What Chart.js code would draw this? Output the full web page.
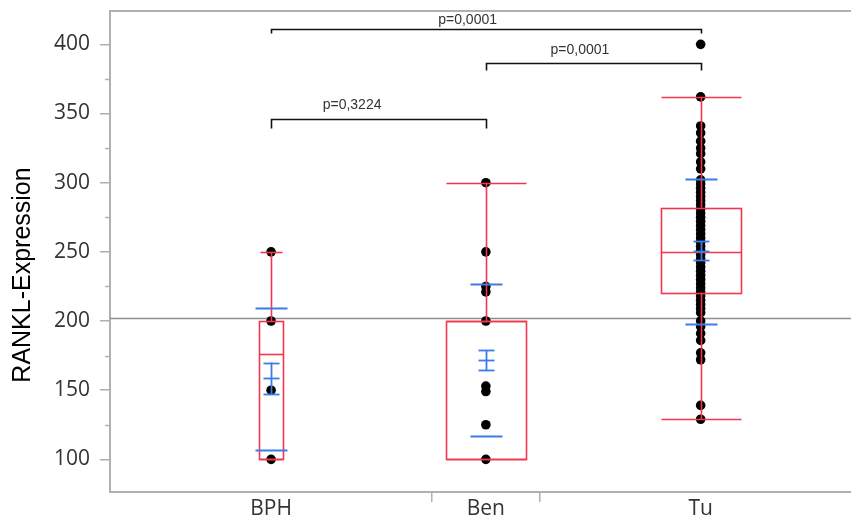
<!DOCTYPE html>
<html><head><meta charset="utf-8">
<script src="https://cdn.jsdelivr.net/npm/chart.js@4.4.1/dist/chart.umd.min.js"></script>
<style>html,body{margin:0;padding:0;background:#fff;}canvas{display:block;}</style>
</head><body>
<canvas id="c" width="851" height="522"></canvas>
<script>
// ---- data ----
const categories = ['BPH', 'Ben', 'Tu'];
const whiskerLow  = [100, 100, 129];
const quartile1   = [100, 100, 220];
const medians     = [176, 200, 250];
const quartile3   = [200, 200, 282];
const whiskerHigh = [250, 300, 362];
const means       = [159, 171.5, 250.7];
const seLow       = [147.3, 164.5, 244];
const seHigh      = [170, 178.7, 257.5];
const sdLow       = [106.5, 116.7, 197.8];
const sdHigh      = [209.6, 227, 302.7];
const pointsBPH = [250, 200, 150, 100];
const pointsBen = [300, 250, 225, 221, 200, 153, 149, 125, 100];
const pointsTu  = [400, 362, 341, 336, 330, 325, 321, 315, 310, 302, 299, 296, 293, 290, 287, 284, 281, 278, 275, 272, 269, 266, 263, 260, 257, 254, 251, 248, 245, 242, 239, 236, 233, 230, 227, 224, 221, 218, 215, 212, 209, 206, 200, 196, 191, 186, 177, 172, 139, 129];
const yTicks = [100, 150, 200, 250, 300, 350, 400];
const yMinorTicks = [125, 175, 225, 275, 325, 375];
const xDividers = [0.75, 1.25];
const referenceValue = 202;
const compFrom  = [0, 1, 0];
const compTo    = [2, 2, 1];
const compLevel = [411, 386.3, 345.8];
const compLabel = ['p=0,0001', 'p=0,0001', 'p=0,3224'];

// ---- style ----
const style = {
  red: '#f0384c', blue: '#3b7de6', boxWidth: [24, 80, 80], capWidth: [22, 80, 80],
  sdWidth: 32, seWidth: 16, compTick: [4, 7, 9], compTextX: [0.915, 1.438, 0.377], compTextGap: [6, 10, 11]
};

const groups = [pointsBPH, pointsBen, pointsTu];
const scatterData = [];
groups.forEach((arr, gi) => arr.forEach(v => scatterData.push({x: gi, y: v})));

const decor = {
  id: 'decor',
  beforeDatasetsDraw(chart) {
    const {ctx, chartArea: a, scales: {x, y}} = chart;
    ctx.save();
    ctx.strokeStyle = '#b0b0b0'; ctx.lineWidth = 2;
    ctx.beginPath(); ctx.moveTo(a.left, a.top); ctx.lineTo(a.right, a.top); ctx.stroke();
    const ry = Math.round(y.getPixelForValue(referenceValue)) + 0.5;
    ctx.strokeStyle = '#8e8e8e'; ctx.lineWidth = 1.6;
    ctx.beginPath(); ctx.moveTo(a.left, ry); ctx.lineTo(a.right, ry); ctx.stroke();
    ctx.strokeStyle = '#b0b0b0'; ctx.lineWidth = 1.5;
    yMinorTicks.forEach(v => {
      const py = Math.round(y.getPixelForValue(v)) + 0.5;
      ctx.beginPath(); ctx.moveTo(a.left - 5, py); ctx.lineTo(a.left, py); ctx.stroke();
    });
    ctx.restore();
  },
  afterDatasetsDraw(chart) {
    const {ctx, scales: {x, y}} = chart;
    ctx.save();
    const hl = (cx, v, w) => { const py = Math.round(y.getPixelForValue(v)) + 0.5; ctx.beginPath(); ctx.moveTo(cx - w / 2, py); ctx.lineTo(cx + w / 2, py); ctx.stroke(); };
    const vl = (cx, v1, v2) => { ctx.beginPath(); ctx.moveTo(cx, y.getPixelForValue(v1)); ctx.lineTo(cx, y.getPixelForValue(v2)); ctx.stroke(); };
    categories.forEach((c, i) => {
      const cx = Math.round(x.getPixelForValue(i)) + 0.5;
      ctx.strokeStyle = style.red; ctx.lineWidth = 1.6;
      vl(cx, whiskerLow[i], quartile1[i]);
      vl(cx, quartile3[i], whiskerHigh[i]);
      hl(cx, whiskerLow[i], style.capWidth[i]);
      hl(cx, whiskerHigh[i], style.capWidth[i]);
      const t = Math.round(y.getPixelForValue(quartile3[i])) + 0.5;
      const b = Math.round(y.getPixelForValue(quartile1[i])) + 0.5;
      ctx.strokeRect(cx - style.boxWidth[i] / 2, t, style.boxWidth[i], b - t);
      hl(cx, medians[i], style.boxWidth[i]);
      ctx.strokeStyle = style.blue; ctx.lineWidth = 1.8;
      hl(cx, sdLow[i], style.sdWidth);
      hl(cx, sdHigh[i], style.sdWidth);
      vl(cx, seLow[i], seHigh[i]);
      hl(cx, seLow[i], style.seWidth);
      hl(cx, seHigh[i], style.seWidth);
      hl(cx, means[i], style.seWidth);
    });
    ctx.strokeStyle = '#111'; ctx.lineWidth = 1.6; ctx.fillStyle = '#333';
    ctx.font = '14px "Liberation Sans", Arial, sans-serif';
    ctx.textAlign = 'center'; ctx.textBaseline = 'alphabetic';
    compLabel.forEach((lab, k) => {
      const x1 = Math.round(x.getPixelForValue(compFrom[k])) + 0.5;
      const x2 = Math.round(x.getPixelForValue(compTo[k])) + 0.5;
      const py = Math.round(y.getPixelForValue(compLevel[k])) + 0.5;
      ctx.beginPath();
      ctx.moveTo(x1, py + style.compTick[k]); ctx.lineTo(x1, py); ctx.lineTo(x2, py); ctx.lineTo(x2, py + style.compTick[k]);
      ctx.stroke();
      ctx.fillText(lab, x.getPixelForValue(style.compTextX[k]), py - style.compTextGap[k]);
    });
    ctx.restore();
  },
  afterDraw(chart) {
    const {ctx} = chart;
    ctx.save();
    ctx.translate(23, 275);
    ctx.rotate(-Math.PI / 2);
    ctx.font = '25px "Liberation Sans", Arial, sans-serif';
    ctx.fillStyle = '#000'; ctx.textAlign = 'center'; ctx.textBaseline = 'middle';
    ctx.fillText('RANKL-Expression', 0, 0);
    ctx.restore();
  }
};

new Chart(document.getElementById('c'), {
  type: 'scatter',
  data: { datasets: [{ data: scatterData, pointRadius: 4.8, pointHoverRadius: 4.8, pointBackgroundColor: '#000', pointBorderWidth: 0, borderColor: '#000' }] },
  options: {
    responsive: false, animation: false, devicePixelRatio: 1,
    layout: { autoPadding: false, padding: { top: 11, right: 0, left: 0, bottom: 0 } },
    plugins: { legend: { display: false }, tooltip: { enabled: false } },
    scales: {
      x: {
        type: 'linear', min: -0.75, max: 2.7,
        afterBuildTicks: s => { s.ticks = [0, ...xDividers, 1, 2].sort((a, b) => a - b).map(v => ({value: v})); },
        afterFit: s => { s.height = 30; s.paddingLeft = 0; s.paddingRight = 0; },
        border: { color: '#b0b0b0', width: 2 },
        grid: { drawOnChartArea: false, drawTicks: true, tickLength: 10, lineWidth: 1.5,
          tickColor: c => (c.tick && Number.isInteger(c.tick.value)) ? 'rgba(0,0,0,0)' : '#b0b0b0' },
        ticks: { autoSkip: false, maxRotation: 0, padding: -3, color: '#333',
          font: { family: '"Open Sans", sans-serif', size: 21, lineHeight: 1 },
          callback: v => Number.isInteger(v) ? categories[v] : '' }
      },
      y: {
        type: 'linear', min: 76.4, max: 424.1,
        afterBuildTicks: s => { s.ticks = yTicks.map(v => ({value: v})); },
        afterFit: s => { s.width = 110; s.paddingTop = 0; s.paddingBottom = 0; },
        border: { color: '#b0b0b0', width: 2 },
        grid: { drawOnChartArea: false, drawTicks: true, tickLength: 10, tickColor: '#b0b0b0', lineWidth: 1.5 },
        ticks: { padding: 10, color: '#333', font: { family: '"Open Sans", sans-serif', size: 21 } }
      }
    }
  },
  plugins: [decor]
});
</script>
</body></html>
